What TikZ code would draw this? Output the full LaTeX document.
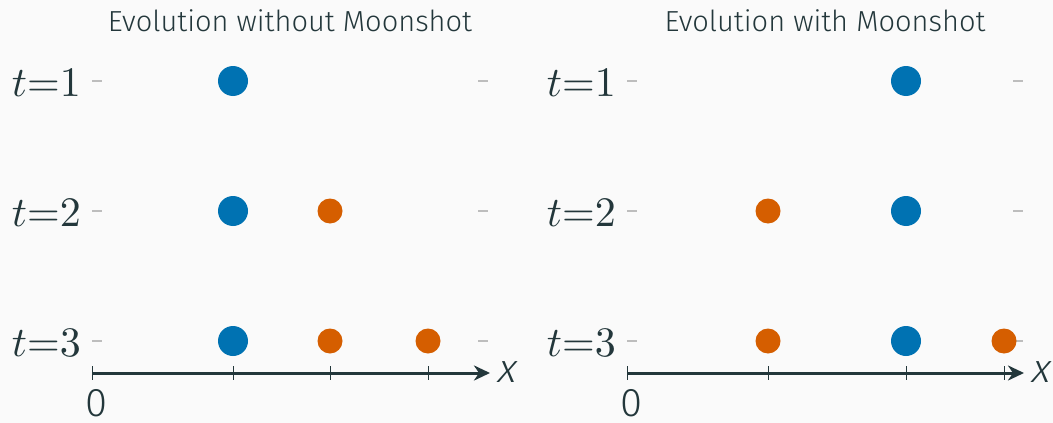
\documentclass[tikz,border=0pt]{standalone}
\usepackage{fontspec}
\setmainfont{Fira Sans Light}
\newfontfamily\slantfont[FakeSlant=0.22]{Fira Sans Light}
\usetikzlibrary{arrows.meta}
\definecolor{bg}{HTML}{FAFAFA}
\definecolor{fg}{HTML}{23373B}
\definecolor{blu}{HTML}{0072B2}
\definecolor{ora}{HTML}{D55E00}
\definecolor{dsh}{HTML}{BDBDBD}
\tikzset{
  titlelab/.style={text=fg, inner sep=0pt, font=\fontsize{29}{32}\selectfont},
  rowlab/.style={text=fg, inner sep=0pt, anchor=base east},
  bigdot/.style={circle, fill=blu, minimum size=30pt, inner sep=0pt},
  smalldot/.style={circle, fill=ora, minimum size=25pt, inner sep=0pt},
  dashmark/.style={draw=dsh, line width=1.5pt},
  axisline/.style={draw=fg, line width=3pt, -{Stealth[length=16pt, width=15pt, inset=5pt]}},
  tickmark/.style={draw=fg, line width=0.8pt},
  axlab/.style={text=fg, inner sep=0pt, font=\fontsize{40}{44}\selectfont},
}
\newcommand{\tlab}[1]{\scalebox{4.2}{$t{=}#1$}}
\begin{document}
\begin{tikzpicture}[x=1pt, y=-1pt]
\fill[bg] (0,0) rectangle (1053,423);
\useasboundingbox (0,0) rectangle (1053,423);

% titles
\node[titlelab] (titleL) at (290,21) {Evolution without Moonshot};
\node[titlelab] (titleR) at (825,21) {Evolution with Moonshot};

% row labels and dashes
\foreach \r/\y in {1/81, 2/211, 3/341} {
  \node[rowlab] (labL\r) at (81,\y+15) {\tlab{\r}};
  \node[rowlab] (labR\r) at (616,\y+15) {\tlab{\r}};
  \coordinate (dL\r a) at (92,\y);  \coordinate (dL\r b) at (102,\y);
  \coordinate (dL\r c) at (478,\y); \coordinate (dL\r d) at (488,\y);
  \coordinate (dR\r a) at (627,\y); \coordinate (dR\r b) at (637,\y);
  \coordinate (dR\r c) at (1013,\y); \coordinate (dR\r d) at (1023,\y);
  \draw[dashmark] (dL\r a) -- (dL\r b);
  \draw[dashmark] (dL\r c) -- (dL\r d);
  \draw[dashmark] (dR\r a) -- (dR\r b);
  \draw[dashmark] (dR\r c) -- (dR\r d);
}

% left panel dots
\node[bigdot] (L1b) at (233,81) {};
\node[bigdot] (L2b) at (233,211) {};
\node[smalldot] (L2o) at (330,211) {};
\node[bigdot] (L3b) at (233,341) {};
\node[smalldot] (L3o) at (330,341) {};
\node[smalldot] (L3p) at (428,341) {};

% right panel dots
\node[bigdot] (R1b) at (906,81) {};
\node[smalldot] (R2o) at (768,211) {};
\node[bigdot] (R2b) at (906,211) {};
\node[smalldot] (R3o) at (768,341) {};
\node[bigdot] (R3b) at (906,341) {};
\node[smalldot] (R3p) at (1004,341) {};

% axes
\coordinate (axL0) at (92,373);  \coordinate (axLe) at (490,373);
\coordinate (axR0) at (627,373); \coordinate (axRe) at (1024,373);
\draw[axisline] (axL0) -- (axLe);
\draw[axisline] (axR0) -- (axRe);
\foreach \x in {92,233,330,428} \draw[tickmark] (\x,366) -- (\x,380);
\foreach \x in {627,768,906,1004} \draw[tickmark] (\x,366) -- (\x,380);

\node[axlab] (xL) at (506,372) {\slantfont x};
\node[axlab] (xR) at (1040,372) {\slantfont x};
\node[axlab] (zL) at (96,403) {0};
\node[axlab] (zR) at (631,403) {0};
\end{tikzpicture}
\end{document}
